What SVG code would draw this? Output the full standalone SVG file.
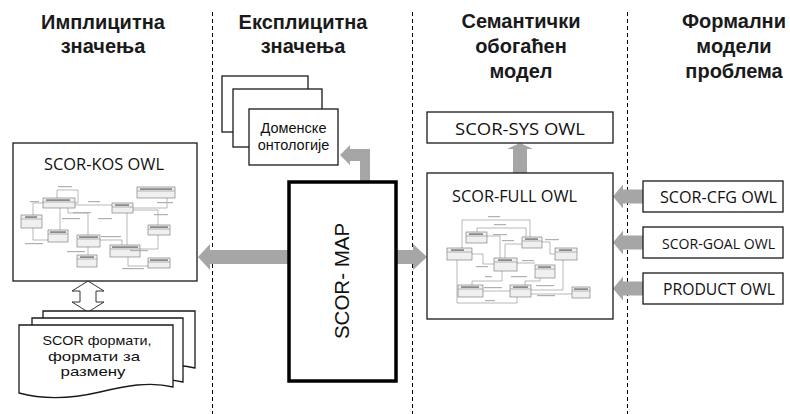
<svg xmlns="http://www.w3.org/2000/svg" width="790" height="414" viewBox="0 0 790 414">
<style>
.hdr{font-family:"Liberation Sans",Arial,sans-serif;font-weight:bold;font-size:20px;fill:#1a1a1a;text-anchor:middle}
.lbl{font-family:"Open Sans","Noto Sans",sans-serif;fill:#111;text-anchor:middle}
.ar{font-family:"Liberation Sans",Arial,sans-serif;fill:#111;text-anchor:middle}
.box{fill:#fff;stroke:#1a1a1a;stroke-width:1.3}
.sep{fill:none;stroke:#000;stroke-width:1;stroke-dasharray:4,3}
.arr{fill:#a6a6a6;stroke:none}
.mb{fill:#f0f0f0;stroke:#6e6e6e;stroke-width:0.6}
.ml{fill:none;stroke:#8c8c8c;stroke-width:0.6}
.mt{fill:#808080}
.me{fill:#b0b0b0}
</style>

<g id="separators">
<line class="sep" x1="212.5" y1="12" x2="212.5" y2="414"/>
<line class="sep" x1="412.5" y1="12" x2="412.5" y2="414"/>
<line class="sep" x1="627.5" y1="12" x2="627.5" y2="414"/>
</g>

<g id="headers">
<text class="hdr" x="103" y="29">Имплицитна</text>
<text class="hdr" x="103" y="53">значења</text>
<text class="hdr" x="303" y="29">Експлицитна</text>
<text class="hdr" x="303" y="53">значења</text>
<text class="hdr" x="521" y="28">Семантички</text>
<text class="hdr" x="521" y="53">обогаћен</text>
<text class="hdr" x="521" y="78">модел</text>
<text class="hdr" x="734" y="28">Формални</text>
<text class="hdr" x="734" y="53">модели</text>
<text class="hdr" x="734" y="78">проблема</text>
</g>

<g id="connectors">
<polygon class="arr" points="198,257 210,244 210,250 289,250 289,264 210,264 210,270"/>
<polygon class="arr" points="397,250 413,250 413,244 427,257 413,270 413,264 397,264"/>
<polygon class="arr" points="340,155 350,145 350,149 370,149 370,181 360,181 360,161 350,161 350,165"/>
<polygon class="arr" points="520,143 533,149 527,149 527,173 513,173 513,149 507,149"/>
<polygon class="arr" points="613,196.5 623,184.5 623,189.5 643,189.5 643,203.5 623,203.5 623,208.5"/>
<polygon class="arr" points="613,242.5 623,230.5 623,235.5 643,235.5 643,249.5 623,249.5 623,254.5"/>
<polygon class="arr" points="613,288.5 623,276.5 623,281.5 643,281.5 643,295.5 623,295.5 623,300.5"/>
<polygon points="88,281 104,291 96,291 96,302 104,302 88,312 72,302 80,302 80,291 72,291" fill="#fff" stroke="#333" stroke-width="1"/>
</g>

<g id="domain-ontologies">
<rect class="box" x="222" y="76" width="86" height="56"/>
<rect class="box" x="233" y="89" width="89" height="58"/>
<rect class="box" x="249" y="109" width="89" height="56"/>
<text class="ar" x="293.5" y="133" font-size="14.5">Доменске</text>
<text class="ar" x="293.5" y="150" font-size="14.5">онтологије</text>
</g>

<g id="scor-kos">
<rect class="box" x="13" y="143" width="184" height="138"/>
<text class="lbl" x="104" y="170" font-size="16.5" textLength="120" lengthAdjust="spacingAndGlyphs">SCOR-KOS OWL</text>
<g id="kos-mini">
<path class="ml" d="M57,198 V190 H78 V203 H75 M43,203 H33 V215 M33,228 V240 H48 M60,208 V230 M68,208 V213 H88 V235 M75,205 H112 M133,208 H167 V198 M133,210 H158 V225 M127,245 V213 M100,240 H122 V245 M88,247 V255 M140,249 H158 V235 M128,257 V266 H148"/>
<rect class="mb" x="43" y="198" width="32" height="10"/><line class="ml" x1="43" y1="202" x2="75" y2="202"/><rect class="mt" x="46" y="199.3" width="24" height="1.6"/>
<rect class="mb" x="112" y="203" width="21" height="10"/><line class="ml" x1="112" y1="207" x2="133" y2="207"/><rect class="mt" x="115" y="204.3" width="14" height="1.6"/>
<rect class="mb" x="137" y="187" width="38" height="11"/><line class="ml" x1="137" y1="191" x2="175" y2="191"/><rect class="mt" x="140" y="188.3" width="32" height="1.6"/>
<rect class="mb" x="21" y="215" width="21" height="13"/><line class="ml" x1="21" y1="219" x2="42" y2="219"/><rect class="mt" x="25" y="216.3" width="12" height="1.6"/>
<rect class="mb" x="48" y="230" width="20" height="12"/><line class="ml" x1="48" y1="234" x2="68" y2="234"/><rect class="mt" x="50" y="231.3" width="16" height="1.6"/>
<rect class="mb" x="77" y="235" width="23" height="12"/><line class="ml" x1="77" y1="239" x2="100" y2="239"/><rect class="mt" x="79" y="236.3" width="19" height="1.6"/>
<rect class="mb" x="148" y="225" width="22" height="10"/><line class="ml" x1="148" y1="229" x2="170" y2="229"/><rect class="mt" x="150" y="226.3" width="18" height="1.6"/>
<rect class="mb" x="110" y="245" width="30" height="12"/><line class="ml" x1="110" y1="249" x2="140" y2="249"/><rect class="mt" x="112" y="246.3" width="26" height="1.6"/>
<rect class="mb" x="77" y="255" width="20" height="12"/><line class="ml" x1="77" y1="259" x2="97" y2="259"/><rect class="mt" x="80" y="256.3" width="14" height="1.6"/>
<rect class="mb" x="148" y="258" width="22" height="10"/><line class="ml" x1="148" y1="262" x2="170" y2="262"/><rect class="mt" x="150" y="259.3" width="18" height="1.6"/>
<rect class="me" x="58" y="186" width="14" height="1.2"/><rect class="me" x="30" y="201" width="9" height="1.2"/><rect class="me" x="25" y="243" width="18" height="1.2"/>
<rect class="me" x="62" y="218" width="18" height="1.2"/><rect class="me" x="73" y="212" width="18" height="1.2"/><rect class="me" x="88" y="201" width="12" height="1.2"/>
<rect class="me" x="98" y="218" width="14" height="1.2"/><rect class="me" x="154" y="214" width="14" height="1.2"/><rect class="me" x="157" y="202" width="16" height="1.2"/>
<rect class="me" x="101" y="236" width="20" height="1.2"/><rect class="me" x="67" y="251" width="18" height="1.2"/><rect class="me" x="130" y="250" width="18" height="1.2"/><rect class="me" x="122" y="268" width="22" height="1.2"/>
</g>
</g>

<g id="scor-formats">
<path class="box" d="M43,311 H195 V368 C175,363 160,367 140,372 C115,378 80,378 43,372 Z"/>
<path class="box" d="M32,318 H183 V382 C160,376 140,381 120,386 C90,392 60,392 32,386 Z"/>
<path class="box" d="M19,325 H173 V387 C150,381 125,386 100,392 C70,399 45,400 19,393 Z"/>
<text class="ar" x="97" y="345" font-size="13" textLength="109" lengthAdjust="spacingAndGlyphs">SCOR формати,</text>
<text class="ar" x="94" y="360.5" font-size="13" textLength="92" lengthAdjust="spacingAndGlyphs">формати за</text>
<text class="ar" x="93" y="376" font-size="13" textLength="65" lengthAdjust="spacingAndGlyphs">размену</text>
</g>

<g id="scor-map">
<rect x="289" y="182" width="107" height="199" fill="#fff" stroke="#000" stroke-width="3.5"/>
<text class="ar" transform="translate(349,281) rotate(-90)" x="0" y="0" font-size="20.5">SCOR- MAP</text>
</g>

<g id="scor-sys">
<rect class="box" x="427" y="112" width="186" height="31"/>
<text class="lbl" x="520" y="135" font-size="17" textLength="130" lengthAdjust="spacingAndGlyphs">SCOR-SYS OWL</text>
</g>

<g id="scor-full">
<rect class="box" x="427" y="173" width="186" height="146"/>
<text class="lbl" x="514.5" y="202" font-size="17" textLength="125" lengthAdjust="spacingAndGlyphs">SCOR-FULL OWL</text>
<g id="full-mini">
<path class="ml" d="M462,248 V220 H530 V237 M477,232 V228 H526 V237 M500,258 V236 H487 M505,258 V244 H522 M542,242 H550 V254 H555 M472,254 H483 V264 H494 M517,263 H535 M540,278 V281 H525 V285 M502,271 V281 H472 V285 M483,291 H510 M531,290 H563 V260 M531,294 H572 M457,260 V303 H517 V297"/>
<rect class="mb" x="447" y="248" width="25" height="12"/><line class="ml" x1="447" y1="252" x2="472" y2="252"/><rect class="mt" x="451" y="249.3" width="13" height="1.6"/>
<rect class="mb" x="466" y="232" width="21" height="11"/><line class="ml" x1="466" y1="236" x2="487" y2="236"/><rect class="mt" x="469" y="233.3" width="14" height="1.6"/>
<rect class="mb" x="522" y="237" width="20" height="11"/><line class="ml" x1="522" y1="241" x2="542" y2="241"/><rect class="mt" x="525" y="238.3" width="13" height="1.6"/>
<rect class="mb" x="555" y="248" width="22" height="12"/><line class="ml" x1="555" y1="252" x2="577" y2="252"/><rect class="mt" x="559" y="249.3" width="13" height="1.6"/>
<rect class="mb" x="494" y="258" width="23" height="13"/><line class="ml" x1="494" y1="262" x2="517" y2="262"/><rect class="mt" x="498" y="259.3" width="14" height="1.6"/>
<rect class="mb" x="535" y="265" width="20" height="13"/><line class="ml" x1="535" y1="269" x2="555" y2="269"/><rect class="mt" x="538" y="266.3" width="13" height="1.6"/>
<rect class="mb" x="458" y="285" width="25" height="12"/><line class="ml" x1="458" y1="289" x2="483" y2="289"/><rect class="mt" x="461" y="286.3" width="18" height="1.6"/>
<rect class="mb" x="510" y="285" width="21" height="12"/><line class="ml" x1="510" y1="289" x2="531" y2="289"/><rect class="mt" x="513" y="286.3" width="15" height="1.6"/>
<rect class="mb" x="572" y="287" width="18" height="11"/><line class="ml" x1="572" y1="291" x2="590" y2="291"/><rect class="mt" x="574" y="288.3" width="14" height="1.6"/>
<rect class="me" x="488" y="216" width="12" height="1.2"/><rect class="me" x="494" y="224" width="12" height="1.2"/><rect class="me" x="493" y="234" width="14" height="1.2"/>
<rect class="me" x="502" y="240" width="12" height="1.2"/><rect class="me" x="545" y="239" width="14" height="1.2"/><rect class="me" x="476" y="266" width="12" height="1.2"/>
<rect class="me" x="522" y="260" width="12" height="1.2"/><rect class="me" x="511" y="276" width="16" height="1.2"/><rect class="me" x="485" y="276" width="7" height="1.2"/>
<rect class="me" x="484" y="287" width="18" height="1.2"/><rect class="me" x="536" y="285" width="18" height="1.2"/><rect class="me" x="537" y="295" width="18" height="1.2"/><rect class="me" x="485" y="300" width="10" height="1.2"/>
</g>
</g>

<g id="scor-cfg">
<rect class="box" x="643" y="181" width="140" height="31"/>
<text class="lbl" x="718.5" y="203" font-size="16" textLength="117" lengthAdjust="spacingAndGlyphs">SCOR-CFG OWL</text>
</g>
<g id="scor-goal">
<rect class="box" x="643" y="227" width="140" height="31"/>
<text class="lbl" x="718.5" y="249" font-size="15" textLength="113" lengthAdjust="spacingAndGlyphs">SCOR-GOAL OWL</text>
</g>
<g id="product">
<rect class="box" x="643" y="273" width="140" height="31"/>
<text class="lbl" x="719" y="295" font-size="16" textLength="112" lengthAdjust="spacingAndGlyphs">PRODUCT OWL</text>
</g>
</svg>
